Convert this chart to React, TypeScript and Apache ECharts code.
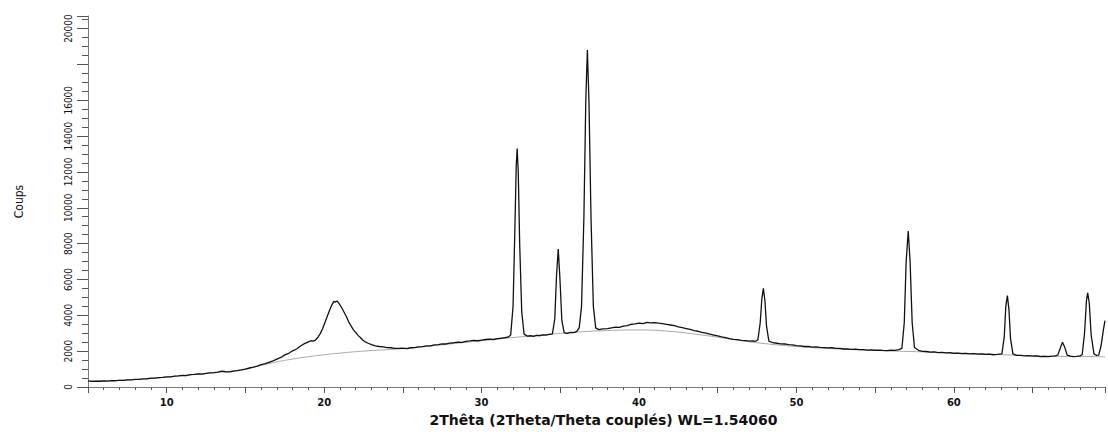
import React, { useEffect, useRef } from "react";
import * as echarts from "echarts";

// Measured diffractogram: [2θ (°), counts]
const scan: [number, number][] = [
  [5.0, 340], [5.25, 310], [5.5, 330], [5.75, 320], [6.0, 340], [6.25, 330], [6.5, 355], [6.75, 350],
  [7.0, 370], [7.25, 365], [7.5, 395], [7.75, 400], [8.0, 420], [8.25, 430], [8.5, 455], [8.75, 460],
  [9.0, 490], [9.25, 500], [9.5, 525], [9.75, 540], [10.0, 570], [10.25, 565], [10.5, 605], [10.75, 620],
  [11.0, 650], [11.25, 640], [11.5, 690], [11.75, 700], [12.0, 730], [12.25, 720], [12.5, 765], [12.75, 790],
  [13.0, 800], [13.25, 830], [13.5, 880], [13.75, 850], [14.0, 845], [14.25, 880], [14.5, 910], [14.75, 950],
  [15.0, 1000], [15.25, 1060], [15.5, 1110], [15.75, 1170], [16.0, 1250], [16.25, 1300], [16.5, 1380],
  [16.75, 1460], [17.0, 1560], [17.25, 1650], [17.5, 1790], [17.75, 1880], [18.0, 2020], [18.25, 2120],
  [18.5, 2290], [18.75, 2420], [19.0, 2520], [19.15, 2580], [19.3, 2560], [19.45, 2620], [19.6, 2760],
  [19.75, 2980], [19.9, 3250], [20.05, 3600], [20.2, 3950], [20.35, 4300], [20.5, 4600], [20.62, 4780],
  [20.72, 4740], [20.82, 4800], [20.95, 4650], [21.1, 4450], [21.25, 4200], [21.4, 3950], [21.55, 3650],
  [21.7, 3420], [21.85, 3200], [22.0, 3050], [22.15, 2880], [22.3, 2760], [22.45, 2620], [22.6, 2520],
  [22.8, 2440], [23.0, 2370], [23.25, 2300], [23.5, 2260], [23.75, 2240], [24.0, 2200], [24.25, 2190],
  [24.5, 2160], [24.75, 2150], [25.0, 2170], [25.25, 2140], [25.5, 2190], [25.75, 2200], [26.0, 2240],
  [26.25, 2250], [26.5, 2300], [26.75, 2290], [27.0, 2350], [27.25, 2370], [27.5, 2410], [27.75, 2400],
  [28.0, 2450], [28.25, 2470], [28.5, 2500], [28.75, 2490], [29.0, 2550], [29.25, 2570], [29.5, 2600],
  [29.75, 2580], [30.0, 2620], [30.25, 2650], [30.5, 2670], [30.75, 2650], [31.0, 2700], [31.25, 2720],
  [31.5, 2760], [31.7, 2790], [31.85, 2900], [32.0, 4500], [32.12, 9000], [32.2, 12300], [32.26, 13300],
  [32.33, 12000], [32.42, 8000], [32.55, 4200], [32.7, 2950], [32.9, 2840], [33.1, 2860], [33.3, 2830],
  [33.5, 2880], [33.7, 2860], [33.9, 2910], [34.1, 2900], [34.3, 2940], [34.5, 2960], [34.65, 3800],
  [34.76, 6200], [34.87, 7700], [34.98, 6000], [35.1, 3700], [35.25, 3020], [35.45, 2990], [35.65, 3050],
  [35.85, 3030], [36.05, 3100], [36.2, 3300], [36.35, 4500], [36.5, 9500], [36.62, 16000], [36.72, 18800],
  [36.82, 16000], [36.95, 9500], [37.1, 4500], [37.25, 3300], [37.45, 3200], [37.7, 3240], [38.0, 3260],
  [38.25, 3300], [38.5, 3340], [38.75, 3330], [39.0, 3400], [39.25, 3430], [39.5, 3500], [39.75, 3520],
  [40.0, 3560], [40.25, 3540], [40.5, 3610], [40.75, 3580], [41.0, 3590], [41.25, 3560], [41.5, 3540],
  [41.75, 3500], [42.0, 3460], [42.25, 3420], [42.5, 3360], [42.75, 3310], [43.0, 3260], [43.25, 3210],
  [43.5, 3150], [43.75, 3110], [44.0, 3050], [44.25, 3000], [44.5, 2950], [44.75, 2900], [45.0, 2850],
  [45.25, 2800], [45.5, 2760], [45.75, 2700], [46.0, 2660], [46.25, 2640], [46.5, 2600], [46.75, 2590],
  [47.0, 2560], [47.25, 2570], [47.4, 2550], [47.55, 2620], [47.7, 3600], [47.8, 4900], [47.9, 5500],
  [48.0, 4800], [48.1, 3400], [48.25, 2560], [48.5, 2470], [48.75, 2440], [49.0, 2410], [49.25, 2400],
  [49.5, 2360], [49.75, 2350], [50.0, 2310], [50.25, 2300], [50.5, 2260], [50.75, 2270], [51.0, 2220],
  [51.25, 2240], [51.5, 2210], [51.75, 2200], [52.0, 2180], [52.25, 2190], [52.5, 2150], [52.75, 2160],
  [53.0, 2120], [53.25, 2130], [53.5, 2100], [53.75, 2110], [54.0, 2080], [54.25, 2090], [54.5, 2060],
  [54.75, 2070], [55.0, 2050], [55.25, 2060], [55.5, 2040], [55.75, 2030], [56.0, 2050], [56.25, 2040],
  [56.5, 2080], [56.7, 2150], [56.85, 3600], [56.97, 7000], [57.1, 8700], [57.22, 7000], [57.35, 3600],
  [57.5, 2200], [57.75, 2050], [58.0, 1990], [58.25, 1980], [58.5, 1950], [58.75, 1960], [59.0, 1920],
  [59.25, 1930], [59.5, 1900], [59.75, 1910], [60.0, 1880], [60.25, 1890], [60.5, 1860], [60.75, 1870],
  [61.0, 1850], [61.25, 1860], [61.5, 1830], [61.75, 1840], [62.0, 1820], [62.25, 1830], [62.5, 1800],
  [62.75, 1820], [63.05, 1850], [63.2, 2800], [63.3, 4500], [63.4, 5100], [63.5, 4300], [63.6, 2700],
  [63.75, 1850], [64.0, 1770], [64.25, 1760], [64.5, 1740], [64.75, 1750], [65.0, 1720], [65.25, 1730],
  [65.5, 1700], [65.75, 1710], [66.0, 1700], [66.25, 1720], [66.45, 1740], [66.6, 1780], [66.75, 2150],
  [66.9, 2500], [67.05, 2200], [67.2, 1780], [67.4, 1720], [67.6, 1700], [67.8, 1710], [68.0, 1740],
  [68.15, 1800], [68.3, 3000], [68.42, 4800], [68.5, 5250], [68.6, 4700], [68.72, 2900], [68.9, 1850],
  [69.05, 1770], [69.2, 1780], [69.35, 2300], [69.5, 3200], [69.6, 3700],
];

// Fitted background: [2θ (°), counts]
const background: [number, number][] = [
  [5.0, 330], [7.0, 370], [9.0, 480], [11.0, 640], [13.0, 800], [14.0, 880], [15.0, 1000],
  [16.0, 1200], [17.0, 1400], [18.0, 1560], [19.0, 1690], [20.0, 1800], [21.0, 1890], [22.0, 1970],
  [23.0, 2030], [24.0, 2080], [25.0, 2140], [26.0, 2220], [28.0, 2400], [30.0, 2580], [32.0, 2760],
  [34.0, 2920], [36.0, 3060], [38.0, 3150], [40.0, 3180], [42.0, 3100], [44.0, 2900], [46.0, 2650],
  [48.0, 2420], [50.0, 2260], [52.0, 2150], [54.0, 2070], [56.0, 2010], [58.0, 1960], [60.0, 1900],
  [62.0, 1840], [64.0, 1770], [66.0, 1720], [68.0, 1700], [69.6, 1690],
];

const xMin = 5;
const xMax = 69.6;
const yMin = 0;
const yMax = 20700;
const xTitle = "2Thêta (2Theta/Theta couplés) WL=1.54060";
const yTitle = "Coups";

export default function App() {
  const ref = useRef<HTMLDivElement>(null);
  useEffect(() => {
    if (!ref.current) return;
    const chart = echarts.init(ref.current, undefined, { renderer: "svg" });
    const axisGray = "#7a7a7a";
    chart.setOption({
      animation: false,
      backgroundColor: "#ffffff",
      grid: { left: 88, right: 0, top: 16, bottom: 39, containLabel: false },
      xAxis: {
        type: "value",
        min: xMin,
        max: xMax,
        interval: 5,
        name: xTitle,
        nameLocation: "middle",
        nameGap: 26,
        nameTextStyle: {
          fontFamily: "'DejaVu Sans', sans-serif",
          fontWeight: "bold",
          fontSize: 14,
          color: "#111",
          padding: [0, 0, 0, 14],
        },
        axisLine: { show: true, lineStyle: { color: axisGray, width: 1 } },
        axisTick: { show: true, length: 6, lineStyle: { color: "#555" } },
        minorTick: { show: true, splitNumber: 5, length: 3, lineStyle: { color: "#555" } },
        splitLine: { show: false },
        axisLabel: {
          margin: 10,
          fontFamily: "'DejaVu Sans', sans-serif",
          fontWeight: "bold",
          fontSize: 10,
          color: "#111",
          formatter: (v: number) => (Math.abs(v % 10) < 1e-9 ? String(v) : ""),
        },
      },
      yAxis: {
        type: "value",
        min: yMin,
        max: yMax,
        interval: 2000,
        name: yTitle,
        nameLocation: "middle",
        nameRotate: 90,
        nameGap: 63,
        nameTextStyle: {
          fontFamily: "'Liberation Sans Narrow', 'Arial Narrow', 'DejaVu Sans Condensed', sans-serif",
          fontSize: 12,
          color: "#111",
        },
        axisLine: { show: true, lineStyle: { color: axisGray, width: 1 } },
        axisTick: { show: true, length: 11, lineStyle: { color: "#555" } },
        minorTick: { show: true, splitNumber: 4, length: 6, lineStyle: { color: "#555" } },
        splitLine: { show: false },
        axisLabel: {
          rotate: 90,
          margin: 15,
          fontFamily: "'Liberation Sans Narrow', 'Arial Narrow', 'DejaVu Sans Condensed', sans-serif",
          fontSize: 10,
          color: "#111",
          formatter: (v: number) => (v === 18000 ? "" : String(v)),
        },
      },
      series: [
        {
          type: "line",
          data: background,
          showSymbol: false,
          symbol: "none",
          smooth: true,
          lineStyle: { color: "#a8a8a8", width: 1 },
          z: 1,
        },
        {
          type: "line",
          data: scan,
          showSymbol: false,
          symbol: "none",
          lineStyle: { color: "#111111", width: 1.3 },
          z: 2,
        },
      ],
    });
    return () => chart.dispose();
  }, []);
  return <div ref={ref} style={{ width: 1108, height: 432, position: "absolute", left: 0, top: 0 }} />;
}
